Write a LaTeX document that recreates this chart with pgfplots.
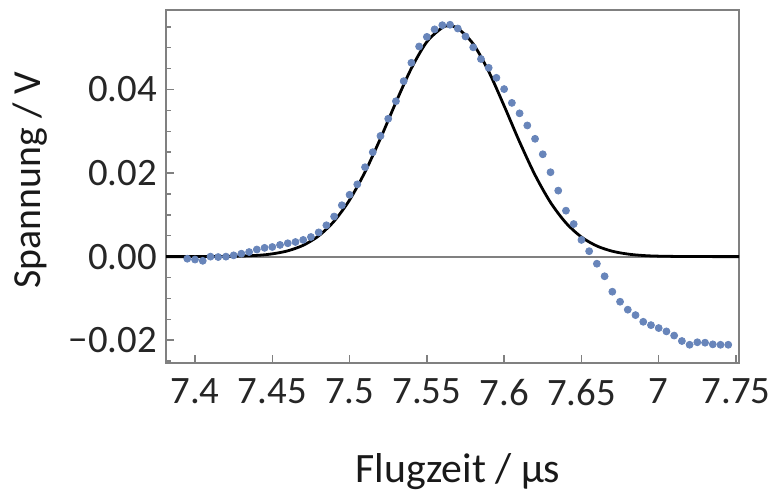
\documentclass[border=0pt]{standalone}
\usepackage{pgfplots}
\pgfplotsset{compat=1.18}
\usepackage{fontspec}
\setmainfont{Carlito}
\definecolor{dotblue}{RGB}{104,133,186}
\definecolor{framegray}{RGB}{128,128,128}
\begin{document}
\begin{tikzpicture}
\path (-83.5pt,-62.5pt) rectangle (305pt,182.5pt);
\begin{axis}[
  at={(0,0)}, anchor=south west,
  scale only axis, width=288pt, height=177.5pt,
  xmin=7.3813, xmax=7.752, ymin=-0.02548, ymax=0.05905,
  scaled y ticks=false, scaled x ticks=false,
  axis line style={framegray, line width=0.9pt},
  tick style={framegray, line width=0.7pt},
  major tick length=4pt, minor tick length=2.5pt,
  tick align=inside,
  xtick={7.4,7.45,7.5,7.55,7.6,7.65,7.7,7.75},
  xticklabels={7.4,7.45,7.5,7.55,7.6,7.65,7,7.75},
  ytick={-0.02,0,0.02,0.04},
  yticklabels={−0.02,0.00,0.02,0.04},
  minor ytick={-0.025,-0.015,-0.01,-0.005,0.005,0.01,0.015,0.025,0.03,0.035,0.045,0.05,0.055},
  xtick pos=bottom, ytick pos=left,
  tick label style={font=\fontsize{19.5}{22}\selectfont, text=black!85},
  xticklabel style={yshift=-4.5pt},
  yticklabel style={xshift=-1pt},
  xlabel={Flugzeit / µs},
  ylabel={Spannung / V},
  label style={text=black!90},
  xlabel style={font=\fontsize{21}{24}\selectfont, at={(axis description cs:0.5,0)}, anchor=base, yshift=-60pt, xshift=2.75pt},
  ylabel style={font=\fontsize{20}{24}\selectfont, at={(axis description cs:0,0.5)}, anchor=center, yshift=68.5pt, xshift=3.25pt},
  clip=true,
]
\addplot[framegray, line width=0.9pt] coordinates {(7.3813,0) (7.752,0)};
\addplot[only marks, mark=*, mark size=1.75pt, color=dotblue, mark options={draw=none, fill=dotblue}] coordinates {
(7.395,-0.0005) (7.400,-0.0007) (7.405,-0.0010) (7.410,0.0000) (7.415,-0.0001)
(7.420,0.0000) (7.425,0.0003) (7.430,0.0007) (7.435,0.0011) (7.440,0.0017)
(7.445,0.0021) (7.450,0.0023) (7.455,0.0028) (7.460,0.0032) (7.465,0.0035)
(7.470,0.0040) (7.475,0.0047) (7.480,0.0058) (7.485,0.0075) (7.490,0.0096)
(7.495,0.0123) (7.500,0.0148) (7.505,0.0173) (7.510,0.0214) (7.515,0.0250)
(7.520,0.0289) (7.525,0.0330) (7.530,0.0372) (7.535,0.0420) (7.540,0.0464)
(7.545,0.0503) (7.550,0.0526) (7.555,0.0544) (7.560,0.0554) (7.565,0.0555)
(7.570,0.0546) (7.575,0.0527) (7.580,0.0501) (7.585,0.0473) (7.590,0.0452)
(7.595,0.0428) (7.600,0.0401) (7.605,0.0368) (7.610,0.0343) (7.615,0.0314)
(7.620,0.0282) (7.625,0.0245) (7.630,0.0202) (7.635,0.0158) (7.640,0.0110)
(7.645,0.0078) (7.650,0.0040) (7.655,0.0013) (7.660,-0.0017) (7.665,-0.0047)
(7.670,-0.0084) (7.675,-0.0108) (7.680,-0.0127) (7.685,-0.0140) (7.690,-0.0156)
(7.695,-0.0164) (7.700,-0.0171) (7.705,-0.0179) (7.710,-0.0189) (7.715,-0.0202)
(7.720,-0.0211) (7.725,-0.0205) (7.730,-0.0206) (7.735,-0.0210) (7.740,-0.0211)
(7.745,-0.0211)
};
\addplot[black, line width=1.4pt, smooth] coordinates {
(7.3813,0.0000) (7.40,0.000006) (7.42,0.000048) (7.44,0.000296) (7.45,0.000662)
(7.46,0.001387) (7.47,0.002715) (7.48,0.004964) (7.49,0.008489) (7.50,0.01356)
(7.51,0.02027) (7.52,0.0283) (7.53,0.03695) (7.54,0.04508) (7.55,0.05142)
(7.56,0.05482) (7.5645,0.0552) (7.57,0.05464) (7.58,0.05091) (7.59,0.04433)
(7.60,0.03608) (7.61,0.02746) (7.62,0.01953) (7.63,0.01298) (7.64,0.00807)
(7.65,0.004687) (7.66,0.002545) (7.67,0.001292) (7.68,0.000613) (7.69,0.000265)
(7.70,0.000113) (7.72,0.000016) (7.752,0.0000)
};
\end{axis}
\end{tikzpicture}
\end{document}
